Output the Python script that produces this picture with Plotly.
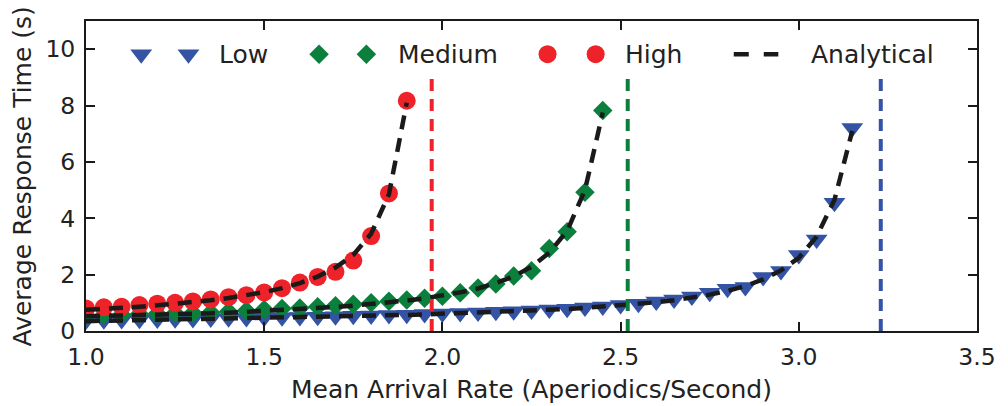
import plotly.graph_objects as go

# ---------------- data ----------------
x_low = [1.00, 1.05, 1.10, 1.15, 1.20, 1.25, 1.30, 1.35, 1.40, 1.45,
         1.50, 1.55, 1.60, 1.65, 1.70, 1.75, 1.80, 1.85, 1.90, 1.95,
         2.00, 2.05, 2.10, 2.15, 2.20, 2.25, 2.30, 2.35, 2.40, 2.45,
         2.50, 2.55, 2.60, 2.65, 2.70, 2.75, 2.80, 2.85, 2.90, 2.95,
         3.00, 3.05, 3.10, 3.15]
low = [0.37, 0.38, 0.39, 0.40, 0.41, 0.42, 0.43, 0.44, 0.45, 0.46,
       0.48, 0.49, 0.50, 0.51, 0.52, 0.54, 0.55, 0.57, 0.58, 0.60,
       0.62, 0.64, 0.66, 0.68, 0.70, 0.73, 0.76, 0.79, 0.83, 0.87,
       0.92, 0.97, 1.05, 1.12, 1.22, 1.36, 1.50, 1.56, 1.92, 2.13,
       2.70, 3.25, 4.55, 7.20]
low_analytical = [0.35, 0.36, 0.37, 0.38, 0.39, 0.40, 0.41, 0.42, 0.43, 0.44,
                  0.45, 0.47, 0.48, 0.49, 0.51, 0.52, 0.54, 0.55, 0.57, 0.59,
                  0.61, 0.63, 0.65, 0.67, 0.69, 0.72, 0.75, 0.78, 0.82, 0.86,
                  0.91, 0.96, 1.02, 1.09, 1.18, 1.29, 1.42, 1.60, 1.83, 2.15,
                  2.60, 3.35, 4.65, 7.10]

x_medium = [1.00, 1.05, 1.10, 1.15, 1.20, 1.25, 1.30, 1.35, 1.40, 1.45,
            1.50, 1.55, 1.60, 1.65, 1.70, 1.75, 1.80, 1.85, 1.90, 1.95,
            2.00, 2.05, 2.10, 2.15, 2.20, 2.25, 2.30, 2.35, 2.40, 2.45]
medium = [0.55, 0.57, 0.58, 0.60, 0.61, 0.63, 0.64, 0.66, 0.69, 0.72,
          0.76, 0.80, 0.82, 0.86, 0.90, 0.95, 1.00, 1.06, 1.10, 1.16,
          1.23, 1.36, 1.53, 1.67, 1.95, 2.14, 2.93, 3.52, 4.92, 7.82]
medium_analytical = [0.52, 0.53, 0.54, 0.56, 0.57, 0.59, 0.61, 0.63, 0.65, 0.68,
                     0.71, 0.74, 0.77, 0.81, 0.85, 0.90, 0.95, 1.01, 1.08, 1.16,
                     1.26, 1.37, 1.51, 1.70, 1.94, 2.28, 2.78, 3.55, 5.00, 7.75]

x_high = [1.00, 1.05, 1.10, 1.15, 1.20, 1.25, 1.30, 1.35, 1.40, 1.45,
          1.50, 1.55, 1.60, 1.65, 1.70, 1.75, 1.80, 1.85, 1.90]
high = [0.80, 0.84, 0.86, 0.92, 0.97, 1.00, 1.05, 1.12, 1.20, 1.27,
        1.37, 1.52, 1.72, 1.92, 2.10, 2.50, 3.37, 4.88, 8.17]
high_analytical = [0.75, 0.78, 0.82, 0.86, 0.91, 0.96, 1.02, 1.09, 1.17, 1.27,
                   1.38, 1.52, 1.70, 1.93, 2.25, 2.70, 3.45, 4.85, 8.10]

# saturation (capacity) limits for each load level
capacity = {"Low": 3.23, "Medium": 2.52, "High": 1.97}
capacity_line_top = 9.0

x_ticks = [1.0, 1.5, 2.0, 2.5, 3.0, 3.5]
y_ticks = [0, 2, 4, 6, 8, 10]

# ---------------- styles ----------------
BLUE = "#3453a4"
GREEN = "#0b7f3c"
RED = "#ee2229"
BLACK = "#1a1a1a"
TXT = "#222222"
FONT = "DejaVu Sans"

SZ_TRI, SZ_DIA, SZ_CIR = 19, 15, 18

fig = go.Figure()

series = [
    ("Low", x_low, low, low_analytical, BLUE, "triangle-down", SZ_TRI),
    ("Medium", x_medium, medium, medium_analytical, GREEN, "diamond", SZ_DIA),
    ("High", x_high, high, high_analytical, RED, "circle", SZ_CIR),
]

for name, xs, ys, ya, col, sym, sz in series:
    fig.add_trace(go.Scatter(
        x=xs, y=ys, mode="markers", name=name, showlegend=False,
        marker=dict(symbol=sym, size=sz, color=col, line=dict(width=0)),
    ))

for name, xs, ys, ya, col, sym, sz in series:
    fig.add_trace(go.Scatter(
        x=xs, y=ya, mode="lines", name="Analytical", showlegend=False,
        line=dict(color=BLACK, width=4.5, dash="14px,9px"),
    ))

for name, xs, ys, ya, col, sym, sz in series:
    c = capacity[name]
    fig.add_trace(go.Scatter(
        x=[c, c], y=[0, capacity_line_top], mode="lines", showlegend=False,
        line=dict(color=col, width=4, dash="12px,8px"),
    ))

# ---------------- custom matplotlib-like legend (overlay axes 0..1) ----------------
leg_y = 0.893
leg_items = [
    ("Low", BLUE, "triangle-down", SZ_TRI, [0.062, 0.115], 0.1475),
    ("Medium", GREEN, "diamond", SZ_DIA, [0.2616, 0.3147], 0.348),
    ("High", RED, "circle", SZ_CIR, [0.518, 0.572], 0.603),
]
for label, col, sym, sz, xs, tx in leg_items:
    fig.add_trace(go.Scatter(
        x=xs, y=[leg_y, leg_y], mode="markers", xaxis="x2", yaxis="y2",
        showlegend=False, hoverinfo="skip",
        marker=dict(symbol=sym, size=sz, color=col, line=dict(width=0)),
    ))
    fig.add_annotation(x=tx, y=leg_y, xref="paper", yref="paper", text=label,
                       showarrow=False, xanchor="left", yanchor="middle",
                       font=dict(family=FONT, size=25, color=TXT))
fig.add_trace(go.Scatter(
    x=[0.727, 0.777], y=[leg_y, leg_y], mode="lines", xaxis="x2", yaxis="y2",
    showlegend=False, hoverinfo="skip",
    line=dict(color=BLACK, width=4.5, dash="15px,15px"),
))
fig.add_annotation(x=0.812, y=leg_y, xref="paper", yref="paper", text="Analytical",
                   showarrow=False, xanchor="left", yanchor="middle",
                   font=dict(family=FONT, size=25, color=TXT))

# axis titles
fig.add_annotation(x=0.5, y=-0.19, xref="paper", yref="paper",
                   text="Mean Arrival Rate (Aperiodics/Second)", showarrow=False,
                   xanchor="center", yanchor="middle",
                   font=dict(family=FONT, size=25, color=TXT))
fig.add_annotation(x=-0.0713, y=0.5, xref="paper", yref="paper",
                   text="Average Response Time (s)", showarrow=False, textangle=-90,
                   xanchor="center", yanchor="middle",
                   font=dict(family=FONT, size=25, color=TXT))

axis_common = dict(
    showgrid=False, zeroline=False, showline=True, linewidth=2, linecolor=BLACK,
    mirror="ticks", ticks="inside", ticklen=9, tickwidth=1.5, tickcolor=BLACK,
    tickfont=dict(family=FONT, size=23.5, color=TXT),
)

fig.update_layout(
    width=1008, height=406,
    margin=dict(l=86, r=25, t=21, b=75),
    paper_bgcolor="white", plot_bgcolor="white",
    showlegend=False,
    xaxis=dict(range=[1.0, 3.5], tickvals=x_ticks,
               ticktext=[f"{v:.1f}" for v in x_ticks], ticklabelstandoff=4,
               **axis_common),
    yaxis=dict(range=[0, 11], tickvals=y_ticks,
               ticktext=[str(v) for v in y_ticks], ticklabelstandoff=4,
               **axis_common),
    xaxis2=dict(overlaying="x", range=[0, 1], visible=False, fixedrange=True),
    yaxis2=dict(overlaying="y", range=[0, 1], visible=False, fixedrange=True,
                anchor="x2"),
)

fig.write_html("out.html")
